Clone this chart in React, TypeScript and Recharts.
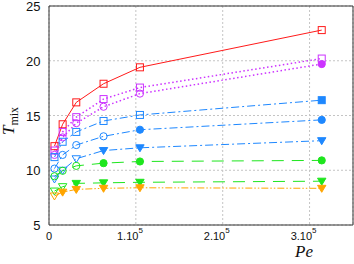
import React from 'react';
import { LineChart, Line, XAxis, YAxis, CartesianGrid, ReferenceLine } from 'recharts';

// Péclet numbers (x positions of the measurement columns)
const peValues = [6300, 15700, 31400, 62800, 104700, 314000];

// T_mix series
const redSquares = [12.2, 14.2, 16.2, 17.9, 19.4, 22.8];
const violetSquares = [11.8, 13.5, 14.85, 16.5, 17.55, 20.2];
const violetCircles = [11.4, 13.0, 14.3, 15.8, 17.0, 19.7];
const blueSquares = [11.2, 12.6, 13.5, 14.5, 15.05, 16.4];
const blueCircles = [10.15, 11.4, 12.3, 13.1, 13.7, 14.6];
const blueTriangles = [9.2, 10.0, 11.05, 11.8, 12.05, 12.7];
const greenCircles = [9.45, 9.95, 10.4, 10.65, 10.8, 10.9];
const greenTriangles = [8.1, 8.5, 8.8, 8.85, 8.9, 9.0];
const orangeTriangles = [7.65, 8.0, 8.25, 8.35, 8.4, 8.35];

// ticks
const xTicks = [0, 100000, 200000, 300000];
const xTickMantissa = ['0', '1.10', '2.10', '3.10'];
const xTickExponent = ['', '5', '5', '5'];
const yTicks = [5, 10, 15, 20, 25];

const seriesList = [
  { key: 's1', values: redSquares, color: '#ff1a1a', shape: 'square', dash: undefined, fillFrom: 99, w: 1 },
  { key: 's2', values: violetSquares, color: '#cc33ff', shape: 'square', dash: '1.5 2.5', fillFrom: 99, w: 1.5 },
  { key: 's3', values: violetCircles, color: '#cc33ff', shape: 'circle', dash: '1.5 2.5', fillFrom: 5, w: 1.5 },
  { key: 's4', values: blueSquares, color: '#1e88ff', shape: 'square', dash: '8 3 2 3', fillFrom: 5, w: 1 },
  { key: 's5', values: blueCircles, color: '#1e88ff', shape: 'circle', dash: '8 3 2 3', fillFrom: 4, w: 1 },
  { key: 's6', values: blueTriangles, color: '#1e88ff', shape: 'triangle', dash: '8 3 2 3', fillFrom: 3, w: 1 },
  { key: 's7', values: greenCircles, color: '#1ee61e', shape: 'circle', dash: '12 8', fillFrom: 3, w: 1 },
  { key: 's8', values: greenTriangles, color: '#1ee61e', shape: 'triangle', dash: '12 8', fillFrom: 2, w: 1 },
  { key: 's9', values: orangeTriangles, color: '#ffa500', shape: 'triangle', dash: '7 2 1.5 2 1.5 2', fillFrom: 1, w: 1 },
];

const data = peValues.map((pe, i) => {
  const row: Record<string, number> = { pe };
  seriesList.forEach((s) => {
    row[s.key] = s.values[i];
  });
  return row;
});

function Marker(props: any) {
  const { cx, cy, shape, color, filled } = props;
  if (cx == null || cy == null) return null;
  const fill = filled ? color : 'none';
  if (shape === 'square') {
    return <rect x={cx - 3.5} y={cy - 3.5} width={7} height={7} fill={fill} stroke={color} strokeWidth={1} />;
  }
  if (shape === 'circle') {
    return <circle cx={cx} cy={cy} r={3.6} fill={fill} stroke={color} strokeWidth={1} />;
  }
  const pts = `${cx - 4.2},${cy - 3} ${cx + 4.2},${cy - 3} ${cx},${cy + 4}`;
  return <polygon points={pts} fill={fill} stroke={color} strokeWidth={1} />;
}

const tickFont = 'Liberation Sans, Arial, Helvetica, sans-serif';
const serifFont = 'Liberation Serif, Times New Roman, serif';

function XTick(props: any) {
  const { x, y, payload } = props;
  const idx = xTicks.indexOf(payload.value);
  const mant = xTickMantissa[idx] ?? String(payload.value);
  const exp = xTickExponent[idx] ?? '';
  if (!exp) {
    return (
      <text x={x} y={y + 15} textAnchor="middle" fontFamily={tickFont} fontSize={11} fill="#111">
        {mant}
      </text>
    );
  }
  return (
    <text x={x + 7} y={y + 15} textAnchor="end" fontFamily={tickFont} fontSize={11} fill="#111">
      <tspan>{mant}</tspan>
      <tspan dy={-7} fontSize={8}>{exp}</tspan>
    </text>
  );
}

function YTick(props: any) {
  const { x, y, payload } = props;
  return (
    <text x={x - 8.5} y={y + 5.2} textAnchor="end" fontFamily={tickFont} fontSize={13} fill="#111">
      {payload.value}
    </text>
  );
}

const PeLabel = () => (
  <text x={304} y={257} textAnchor="middle" fontFamily={serifFont} fontStyle="italic" fontSize={17} fill="#111">
    Pe
  </text>
);

const TLabel = () => (
  <text
    x={14}
    y={121}
    transform="rotate(-90, 14, 121)"
    textAnchor="middle"
    fontFamily={serifFont}
    fontSize={17}
    fill="#111"
  >
    <tspan fontStyle="italic">T</tspan>
    <tspan dy={4} fontSize={12}>mix</tspan>
  </text>
);

export default function App() {
  return (
    <div style={{ position: 'absolute', left: 0, top: 0, width: 354, height: 264, background: '#fff' }}>
      <LineChart width={354} height={264} data={data} margin={{ top: 6, right: 1, left: 0, bottom: 0 }}>
        <CartesianGrid stroke="#c4c4c4" strokeDasharray="2 2" />
        <XAxis
          dataKey="pe"
          type="number"
          domain={[0, 350000]}
          ticks={xTicks}
          height={39}
          tickSize={0}
          tickMargin={0}
          tickLine={false}
          axisLine={{ stroke: '#333' }}
          tick={<XTick />}
          label={<PeLabel />}
          interval={0}
          allowDataOverflow
        />
        <YAxis
          type="number"
          domain={[5, 25]}
          ticks={yTicks}
          width={49}
          tickSize={0}
          tickMargin={0}
          tickLine={false}
          axisLine={{ stroke: '#333' }}
          tick={<YTick />}
          label={<TLabel />}
          interval={0}
          allowDataOverflow
        />
        <ReferenceLine y={25} stroke="#333" />
        <ReferenceLine x={350000} stroke="#333" />
        {seriesList.map((s) => (
          <Line
            key={s.key}
            dataKey={s.key}
            type="linear"
            stroke={s.color}
            strokeWidth={s.w}
            strokeDasharray={s.dash}
            isAnimationActive={false}
            activeDot={false}
            dot={(p: any) => (
              <Marker
                key={`${s.key}-${p.index}`}
                cx={p.cx}
                cy={p.cy}
                shape={s.shape}
                color={s.color}
                filled={p.index >= s.fillFrom}
              />
            )}
          />
        ))}
      </LineChart>
    </div>
  );
}
